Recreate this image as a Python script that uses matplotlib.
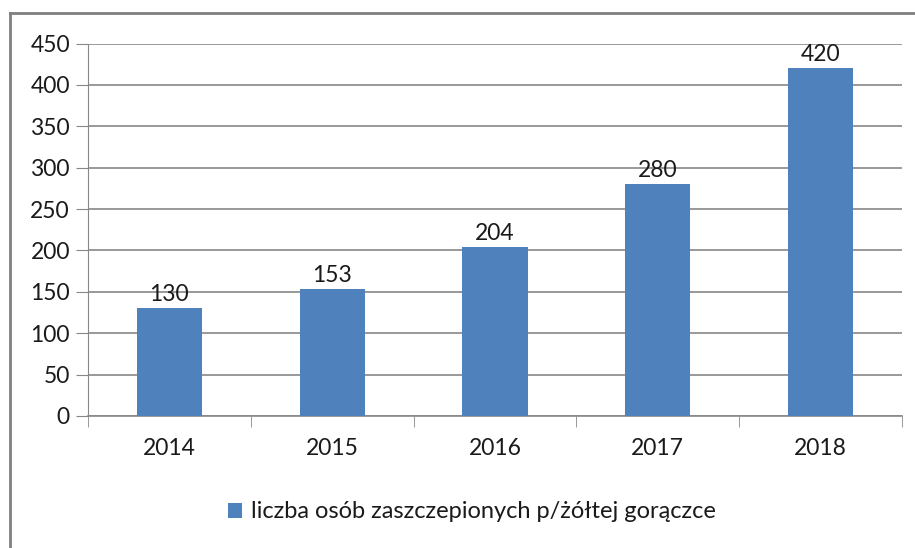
import matplotlib.pyplot as plt

# liczba osób zaszczepionych przeciw żółtej gorączce
years = ["2014", "2015", "2016", "2017", "2018"]
values = [130, 153, 204, 280, 420]
series_name = "liczba osób zaszczepionych p/żółtej gorączce"
y_ticks = [0, 50, 100, 150, 200, 250, 300, 350, 400, 450]

plt.rcParams["font.family"] = ["Lato", "DejaVu Sans"]

fig = plt.figure(figsize=(9.15, 5.48), dpi=100)
ax = fig.add_axes([88 / 915, 1 - 416 / 548, (902 - 88) / 915, (416 - 43.5) / 548])

x = range(len(years))
bars = ax.bar(x, values, width=0.4, color="#4F81BD", label=series_name, zorder=3)

for b, v in zip(bars, values):
    ax.text(b.get_x() + b.get_width() / 2, v + 4, str(v), ha="center", va="bottom",
            fontsize=16.5, color="#1a1a1a")

ax.set_xlim(-0.5, len(years) - 0.5)
ax.set_ylim(0, 450)
ax.set_yticks(y_ticks)
ax.set_xticks(list(x))
ax.set_xticklabels(years)
ax.tick_params(axis="both", labelsize=16.5, labelcolor="#1a1a1a", color="#888888")
ax.tick_params(axis="x", length=0, pad=16)
ax.tick_params(axis="y", length=9, pad=4)
# category separator ticks below the axis
ax.set_xticks([i - 0.5 for i in range(len(years) + 1)], minor=True)
ax.tick_params(axis="x", which="minor", length=8, color="#888888")

ax.grid(axis="y", color="#888888", linewidth=1.2, zorder=0)
for side in ["top", "right"]:
    ax.spines[side].set_visible(False)
ax.spines["left"].set_color("#888888")
ax.spines["bottom"].set_color("#888888")
ax.spines["bottom"].set_linewidth(1.2)

fig.legend(handles=[bars], labels=[series_name], loc="center",
           bbox_to_anchor=(472 / 915, 1 - 512 / 548), frameon=False,
           fontsize=17, handlelength=0.6, handleheight=0.6, handletextpad=0.4,
           labelcolor="#1a1a1a")

# outer chart border (left and top visible)
fig.add_artist(plt.Line2D([10 / 915, 10 / 915], [0, 1 - 13 / 548],
                          transform=fig.transFigure, color="#808080", linewidth=2))
fig.add_artist(plt.Line2D([10 / 915, 1], [1 - 13 / 548, 1 - 13 / 548],
                          transform=fig.transFigure, color="#808080", linewidth=2))

fig.savefig("out.png", dpi=100)
